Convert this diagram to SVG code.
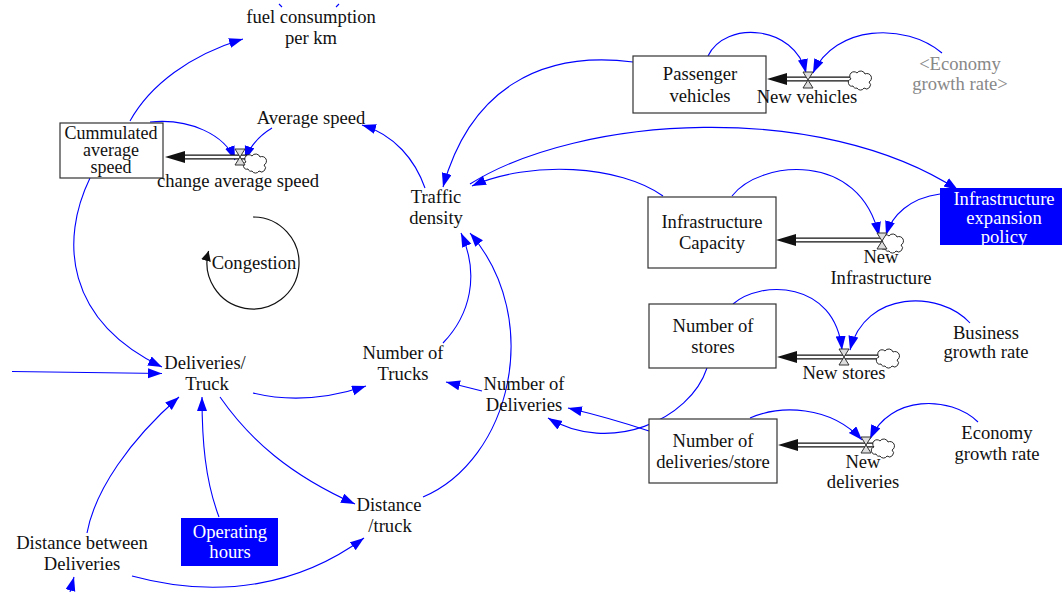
<svg xmlns="http://www.w3.org/2000/svg" width="1064" height="592" viewBox="0 0 1064 592" font-family="'Liberation Serif', Tinos, 'Times New Roman', 'DejaVu Serif', serif">
<style>
text{font-family:"Liberation Serif",Tinos,"Times New Roman","DejaVu Serif",serif;font-size:18.6px;fill:#111;text-anchor:middle}
.w{fill:#fff}
.g{fill:#888}
.s17{font-size:18px}
.stock{fill:#fff;stroke:#333;stroke-width:1.2}
.aux{fill:#0000ff;stroke:none}
.c{fill:none;stroke:#0000ff;stroke-width:1.1;marker-end:url(#ah)}
.cn{fill:none;stroke:#0000ff;stroke-width:1.1}
.po{stroke:#111;stroke-width:5;fill:none}
.pi{stroke:#fff;stroke-width:2.4;fill:none}
</style>
<defs>
<marker id="ah" markerUnits="userSpaceOnUse" markerWidth="15" markerHeight="11" refX="14" refY="5" orient="auto">
<path d="M0,0 L14,5 L0,10 z" fill="#0000ff"/>
</marker>
<marker id="bh" markerUnits="userSpaceOnUse" markerWidth="12" markerHeight="12" refX="10" refY="5" orient="auto">
<path d="M0,0 L10,5 L0,10 z" fill="#111"/>
</marker>
<path id="valve" d="M-5,-8 H5 L-5,8 H5 Z" fill="#ddd" stroke="#333" stroke-width="1"/>
<path id="cloud" d="M-7,6 A3.5,3.5 0 0 1 -9,-1 A4,4 0 0 1 -3,-7 A4.5,4.5 0 0 1 5,-6 A4,4 0 0 1 9,2 A3.5,3.5 0 0 1 4,8 A4,4 0 0 1 -3,8 A3,3 0 0 1 -7,6 Z" fill="#fff" stroke="#111" stroke-width="0.9"/>
<polygon id="parrow" points="0,0 20,-6 20,6" fill="#111"/>
</defs>

<g id="connectors">
<path class="c" d="M130,121 C150,85 190,55 243,39"/>
<path class="c" d="M150,122 C190,118 225,135 235,160"/>
<path class="c" d="M272,128 Q252,140 245,160"/>
<path class="c" d="M90,178 C60,240 65,320 162,367"/>
<path class="c" d="M12,371.5 L162,373.5"/>
<path class="c" d="M425,188 C415,160 395,135 362,125"/>
<path class="c" d="M633,62 C540,50 470,90 443,187"/>
<path class="c" d="M663,196 C620,165 530,160 472,186"/>
<path class="c" d="M470,184 C580,115 820,100 958,190"/>
<path class="c" d="M940,194 C910,198 892,215 886,235"/>
<path class="c" d="M732,196 C760,160 860,150 879,236"/>
<path class="c" d="M708,56 C725,20 795,25 806,73"/>
<path class="c" d="M942,53 C905,22 835,25 813,73"/>
<path class="c" d="M733,304 C760,280 835,280 842,350"/>
<path class="c" d="M970,323 C940,290 865,290 850,350"/>
<path class="c" d="M707,368 C690,420 610,455 548,418"/>
<path class="c" d="M649,431 Q610,418 568,408"/>
<path class="c" d="M750,418 C780,405 830,405 862,440"/>
<path class="c" d="M978,422 C950,395 890,395 870,439"/>
<path class="c" d="M482,391 L446,382"/>
<path class="c" d="M253,393 C290,402 330,398 366,386"/>
<path class="c" d="M443,343 C470,315 480,275 461,233"/>
<path class="c" d="M423,497 C510,460 545,320 470,233"/>
<path class="c" d="M220,397 C250,440 290,475 355,504"/>
<path class="c" d="M87,533 C95,490 130,440 179,397"/>
<path class="c" d="M219,517 C205,480 202,440 202,397"/>
<path class="c" d="M132,576 C220,600 300,585 364,538"/>
<path class="c" d="M70,592 L74,577"/>
<path class="cn" d="M279,4 L282,7 M336,7 L339,4"/>
</g>

<g id="loop-congestion">
<path d="M253,217 A46,46 0 1,1 208.6,251" fill="none" stroke="#111" stroke-width="1.2" marker-end="url(#bh)"/>
<text x="254" y="269">Congestion</text>
</g>

<g id="fuel-consumption">
<text x="311" y="23">fuel consumption</text>
<text x="311" y="44">per km</text>
</g>

<g id="cummulated-average-speed">
<rect class="stock" x="60" y="123" width="103" height="55"/>
<text class="s17" x="111" y="139">Cummulated<tspan x="111" dy="17">average</tspan><tspan x="111" dy="17">speed</tspan></text>
</g>

<g id="change-average-speed">
<line class="po" x1="185" y1="157" x2="247" y2="157"/>
<line class="pi" x1="184" y1="157" x2="247" y2="157"/>
<use href="#parrow" x="165" y="157"/>
<use href="#cloud" x="255" y="163"/>
<use href="#valve" x="240" y="157"/>
<text x="238" y="187">change average speed</text>
</g>

<g id="average-speed">
<text x="311" y="124">Average speed</text>
</g>

<g id="traffic-density">
<text x="436" y="203">Traffic</text>
<text x="436" y="224">density</text>
</g>

<g id="passenger-vehicles">
<rect class="stock" x="633" y="56" width="133" height="57"/>
<text x="700" y="80">Passenger</text>
<text x="700" y="102">vehicles</text>
</g>

<g id="new-vehicles">
<line class="po" x1="786" y1="79" x2="851" y2="79"/>
<line class="pi" x1="785" y1="79" x2="851" y2="79"/>
<use href="#parrow" x="767" y="79"/>
<use href="#cloud" x="860" y="80"/>
<use href="#valve" x="808" y="80"/>
<text x="807" y="103">New vehicles</text>
</g>

<g id="economy-growth-rate-shadow">
<text class="g" x="960" y="70">&lt;Economy</text>
<text class="g" x="960" y="90">growth rate&gt;</text>
</g>

<g id="infrastructure-capacity">
<rect class="stock" x="648" y="197" width="128" height="71"/>
<text x="712" y="228">Infrastructure</text>
<text x="712" y="249">Capacity</text>
</g>

<g id="new-infrastructure">
<line class="po" x1="795" y1="240" x2="884" y2="240"/>
<line class="pi" x1="794" y1="240" x2="884" y2="240"/>
<use href="#parrow" x="776" y="240"/>
<use href="#cloud" x="892" y="243"/>
<use href="#valve" x="882" y="241"/>
<text x="881" y="263">New</text>
<text x="881" y="284">Infrastructure</text>
</g>

<g id="infrastructure-expansion-policy">
<rect class="aux" x="940" y="188" width="122" height="57"/>
<text class="w" x="1004" y="205">Infrastructure</text>
<text class="w" x="1004" y="224">expansion</text>
<text class="w" x="1004" y="243">policy</text>
</g>

<g id="number-of-stores">
<rect class="stock" x="649" y="304" width="127" height="64"/>
<text x="713" y="332">Number of</text>
<text x="713" y="353">stores</text>
</g>

<g id="new-stores">
<line class="po" x1="796" y1="357" x2="879" y2="357"/>
<line class="pi" x1="795" y1="357" x2="879" y2="357"/>
<use href="#parrow" x="777" y="357"/>
<use href="#cloud" x="888" y="358"/>
<use href="#valve" x="844" y="357"/>
<text x="844" y="379">New stores</text>
</g>

<g id="business-growth-rate">
<text x="986" y="339">Business</text>
<text x="986" y="358">growth rate</text>
</g>

<g id="number-of-deliveries-store">
<rect class="stock" x="649" y="419" width="128" height="64"/>
<text x="713" y="447">Number of</text>
<text x="713" y="468">deliveries/store</text>
</g>

<g id="new-deliveries">
<line class="po" x1="797" y1="445" x2="874" y2="445"/>
<line class="pi" x1="796" y1="445" x2="874" y2="445"/>
<use href="#parrow" x="778" y="445"/>
<use href="#cloud" x="883" y="448"/>
<use href="#valve" x="866" y="445"/>
<text x="863" y="468">New</text>
<text x="863" y="488">deliveries</text>
</g>

<g id="economy-growth-rate">
<text x="997" y="439">Economy</text>
<text x="997" y="460">growth rate</text>
</g>

<g id="deliveries-truck">
<text x="205" y="369">Deliveries/</text>
<text x="207" y="390">Truck</text>
</g>

<g id="number-of-trucks">
<text x="403" y="359">Number of</text>
<text x="403" y="380">Trucks</text>
</g>

<g id="number-of-deliveries">
<text x="524" y="390">Number of</text>
<text x="524" y="411">Deliveries</text>
</g>

<g id="distance-truck">
<text x="389" y="511">Distance</text>
<text x="390" y="532">/truck</text>
</g>

<g id="operating-hours">
<rect class="aux" x="181" y="518" width="97" height="48"/>
<text class="w" x="230" y="538">Operating</text>
<text class="w" x="230" y="558">hours</text>
</g>

<g id="distance-between-deliveries">
<text x="82" y="549">Distance between</text>
<text x="82" y="570">Deliveries</text>
</g>
</svg>
